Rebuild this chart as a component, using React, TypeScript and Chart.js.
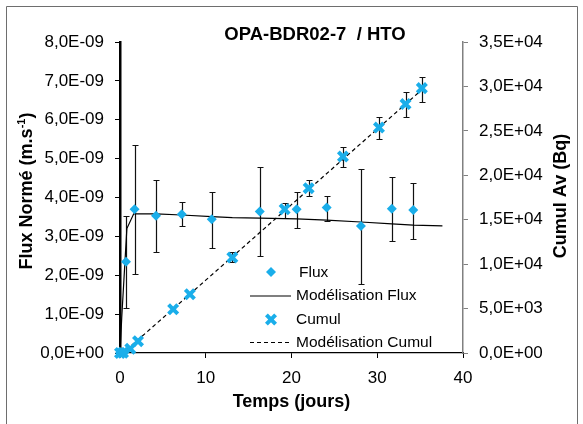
import { useEffect, useRef } from 'react';
import { Chart, registerables } from 'chart.js';

Chart.register(...registerables);

// ---------- DATA ----------
const fluxDays = [0, 0.3, 0.7, 1.7, 4.2, 7.2, 10.7, 16.3, 20.6, 24.1, 28.1, 31.7, 34.2];
const fluxValues = [0, 0.02e-9, 2.35e-9, 3.70e-9, 3.53e-9, 3.57e-9, 3.44e-9, 3.64e-9, 3.70e-9, 3.74e-9, 3.27e-9, 3.71e-9, 3.68e-9];
const fluxErrHigh = [null, null, 3.52e-9, 5.35e-9, 4.45e-9, 3.88e-9, 4.15e-9, 4.78e-9, 4.14e-9, 4.05e-9, 4.74e-9, 4.54e-9, 4.38e-9];
const fluxErrLow = [null, null, 1.15e-9, 2.03e-9, 2.60e-9, 3.27e-9, 2.69e-9, 2.50e-9, 3.22e-9, 3.40e-9, 1.77e-9, 2.88e-9, 2.94e-9];

const cumulDays = [0, 0.35, 1.2, 2.1, 6.2, 8.15, 13.1, 19.2, 22.0, 26.0, 30.2, 33.3, 35.2];
const cumulValues = [0, 30, 480, 1330, 4930, 6610, 10750, 16180, 18550, 22110, 25370, 28010, 29810];
const cumulErrHigh = [null, null, null, null, null, null, 11400, 16860, 19450, 23160, 26610, 29390, 31110];
const cumulErrLow = [null, null, null, null, null, null, 10250, 15170, 17700, 20950, 24100, 26610, 28230];

const modelFluxDays = [0, 0.2, 0.8, 1.6, 4.2, 7.2, 10.7, 13.1, 16.3, 20.6, 24.1, 28.1, 31.7, 34.2, 37.6];
const modelFluxValues = [0, 0.9e-9, 3.2e-9, 3.58e-9, 3.58e-9, 3.55e-9, 3.51e-9, 3.48e-9, 3.47e-9, 3.45e-9, 3.42e-9, 3.37e-9, 3.32e-9, 3.29e-9, 3.27e-9];

const modelCumulDays = [0, 0.5, 1, 2, 5, 10, 20, 30, 35.4];
const modelCumulValues = [0, 150, 560, 1400, 3950, 8200, 16700, 25200, 29800];

const xTicks = [0, 10, 20, 30, 40];

const chartTitle = 'OPA-BDR02-7  / HTO';
const xTitle = 'Temps (jours)';
const yTitleMain = 'Flux Normé (m.s';
const yTitleSup = '-1';
const yTitleEnd = ')';
const y1Title = 'Cumul Av (Bq)';
const legendLabels = ['Flux', 'Modélisation Flux', 'Cumul', 'Modélisation Cumul'];

// ---------- STYLE ----------
const BLUE = '#1AAEEA';
const FONT = '"Liberation Sans", Arial, sans-serif';

function sci(v: number): string {
  const s = v.toExponential(1);
  const [m, e] = s.split('e');
  const n = parseInt(e, 10);
  const sign = n < 0 ? '-' : '+';
  return m.replace('.', ',') + 'E' + sign + String(Math.abs(n)).padStart(2, '0');
}

function drawDiamond(ctx: CanvasRenderingContext2D, x: number, y: number, r: number) {
  ctx.beginPath();
  ctx.moveTo(x, y - r);
  ctx.lineTo(x + r, y);
  ctx.lineTo(x, y + r);
  ctx.lineTo(x - r, y);
  ctx.closePath();
  ctx.fill();
}

function drawX(ctx: CanvasRenderingContext2D, x: number, y: number, r: number) {
  const d = r * Math.SQRT1_2;
  ctx.beginPath();
  ctx.moveTo(x - d, y - d);
  ctx.lineTo(x + d, y + d);
  ctx.moveTo(x + d, y - d);
  ctx.lineTo(x - d, y + d);
  ctx.stroke();
}

const backgroundPlugin = {
  id: 'bgFrame',
  beforeDraw(chart: any) {
    const ctx = chart.ctx as CanvasRenderingContext2D;
    ctx.save();
    ctx.fillStyle = '#fff';
    ctx.fillRect(0, 0, chart.width, chart.height);
    ctx.strokeStyle = '#6e6e6e';
    ctx.lineWidth = 1;
    ctx.beginPath();
    ctx.moveTo(6.5, chart.height + 2);
    ctx.lineTo(6.5, 6.5);
    ctx.lineTo(577.5, 6.5);
    ctx.lineTo(577.5, chart.height + 2);
    ctx.stroke();
    ctx.restore();
  },
};

const errorBarsPlugin = {
  id: 'errorBars',
  beforeDatasetsDraw(chart: any) {
    const ctx = chart.ctx as CanvasRenderingContext2D;
    const xs = chart.scales.x;
    const ys = chart.scales.y;
    const y1s = chart.scales.y1;
    ctx.save();
    ctx.strokeStyle = '#111';
    ctx.lineWidth = 1.2;
    const draw = (t: number, hi: number, lo: number, sc: any) => {
      const px = Math.round(xs.getPixelForValue(t)) + 0.5;
      const ph = Math.round(sc.getPixelForValue(hi)) + 0.5;
      const pl = Math.round(sc.getPixelForValue(lo)) + 0.5;
      ctx.beginPath();
      ctx.moveTo(px, ph);
      ctx.lineTo(px, pl);
      ctx.moveTo(px - 3, ph);
      ctx.lineTo(px + 3, ph);
      ctx.moveTo(px - 3, pl);
      ctx.lineTo(px + 3, pl);
      ctx.stroke();
    };
    fluxDays.forEach((t, i) => {
      const hi = fluxErrHigh[i];
      const lo = fluxErrLow[i];
      if (hi != null && lo != null) draw(t, hi, lo, ys);
    });
    cumulDays.forEach((t, i) => {
      const hi = cumulErrHigh[i];
      const lo = cumulErrLow[i];
      if (hi != null && lo != null) draw(t, hi, lo, y1s);
    });
    ctx.restore();
  },
};

const annotationsPlugin = {
  id: 'annotations',
  afterDraw(chart: any) {
    const ctx = chart.ctx as CanvasRenderingContext2D;
    const area = chart.chartArea;
    ctx.save();
    ctx.fillStyle = '#000';
    ctx.textBaseline = 'middle';

    // title
    ctx.font = `bold 18.5px ${FONT}`;
    ctx.textAlign = 'center';
    ctx.fillText(chartTitle, 315, 35);

    // x title
    ctx.font = `bold 18px ${FONT}`;
    ctx.fillText(xTitle, (area.left + area.right) / 2 + 0, 402);

    // left y title with superscript
    ctx.save();
    ctx.translate(27, 191);
    ctx.rotate(-Math.PI / 2);
    ctx.font = `bold 18px ${FONT}`;
    const w1 = ctx.measureText(yTitleMain).width;
    ctx.font = `bold 11px ${FONT}`;
    const w2 = ctx.measureText(yTitleSup).width;
    ctx.font = `bold 18px ${FONT}`;
    const w3 = ctx.measureText(yTitleEnd).width;
    let sx = -(w1 + w2 + w3) / 2;
    ctx.textAlign = 'left';
    ctx.fillText(yTitleMain, sx, 0);
    sx += w1;
    ctx.font = `bold 11px ${FONT}`;
    ctx.fillText(yTitleSup, sx, -5);
    sx += w2;
    ctx.font = `bold 18px ${FONT}`;
    ctx.fillText(yTitleEnd, sx, 0);
    ctx.restore();

    // right y title
    ctx.save();
    ctx.translate(561, 196);
    ctx.rotate(-Math.PI / 2);
    ctx.font = `bold 18px ${FONT}`;
    ctx.textAlign = 'center';
    ctx.fillText(y1Title, 0, 0);
    ctx.restore();

    // legend
    ctx.font = `15.5px ${FONT}`;
    ctx.textAlign = 'left';
    ctx.fillStyle = BLUE;
    drawDiamond(ctx, 271, 272, 5);
    ctx.strokeStyle = BLUE;
    ctx.lineWidth = 4;
    drawX(ctx, 271, 319.5, 6.5);
    ctx.strokeStyle = '#000';
    ctx.lineWidth = 1.2;
    ctx.beginPath();
    ctx.moveTo(250, 296);
    ctx.lineTo(291, 296);
    ctx.stroke();
    ctx.setLineDash([4, 3]);
    ctx.beginPath();
    ctx.moveTo(250, 342.5);
    ctx.lineTo(291, 342.5);
    ctx.stroke();
    ctx.setLineDash([]);
    ctx.fillStyle = '#000';
    ctx.fillText(legendLabels[0], 299, 272.5);
    ctx.fillText(legendLabels[1], 296, 296);
    ctx.fillText(legendLabels[2], 296, 320);
    ctx.fillText(legendLabels[3], 296, 343);
    ctx.restore();
  },
};

export default function App() {
  const canvasRef = useRef<HTMLCanvasElement | null>(null);

  useEffect(() => {
    if (!canvasRef.current) return;
    const chart = new Chart(canvasRef.current, {
      type: 'scatter',
      data: {
        datasets: [
          {
            label: legendLabels[0],
            data: fluxDays.map((t, i) => ({ x: t, y: fluxValues[i] })),
            yAxisID: 'y',
            pointStyle: 'rectRot',
            pointRadius: 5,
            pointHoverRadius: 5,
            backgroundColor: BLUE,
            borderColor: BLUE,
            borderWidth: 0,
            showLine: false,
            clip: false,
          },
          {
            label: legendLabels[2],
            data: cumulDays.map((t, i) => ({ x: t, y: cumulValues[i] })),
            yAxisID: 'y1',
            pointStyle: 'crossRot',
            pointRadius: 6.5,
            pointHoverRadius: 6.5,
            backgroundColor: BLUE,
            borderColor: BLUE,
            borderWidth: 4,
            showLine: false,
            clip: false,
          },
          {
            label: legendLabels[1],
            data: modelFluxDays.map((t, i) => ({ x: t, y: modelFluxValues[i] })),
            yAxisID: 'y',
            showLine: true,
            pointRadius: 0,
            borderColor: '#000',
            borderWidth: 1.2,
            tension: 0,
            clip: false,
          },
          {
            label: legendLabels[3],
            data: modelCumulDays.map((t, i) => ({ x: t, y: modelCumulValues[i] })),
            yAxisID: 'y1',
            showLine: true,
            pointRadius: 0,
            borderColor: '#000',
            borderWidth: 1.2,
            borderDash: [4, 3],
            tension: 0,
            clip: false,
          },
        ],
      },
      options: {
        animation: false,
        responsive: true,
        maintainAspectRatio: false,
        events: [],
        layout: { padding: { top: 42, left: 0, right: 0, bottom: 0 } },
        plugins: {
          legend: { display: false },
          title: { display: false },
          tooltip: { enabled: false },
        },
        scales: {
          x: {
            type: 'linear',
            position: 'bottom',
            min: 0,
            max: 40,
            afterFit: (s: any) => { s.height = 71; },
            afterBuildTicks: (s: any) => { s.ticks = xTicks.map((v) => ({ value: v })); },
            ticks: {
              color: '#000',
              font: { family: FONT, size: 17 },
              padding: 10,
              maxRotation: 0,
              callback: (v: any) => String(v),
            },
            grid: { drawOnChartArea: false, drawTicks: true, tickLength: 5, color: '#000', lineWidth: 1 },
            border: { display: true, color: '#000', width: 1.2 },
          },
          y: {
            type: 'linear',
            position: 'left',
            min: 0,
            max: 8e-9,
            afterFit: (s: any) => { s.width = 120; },
            ticks: {
              stepSize: 1e-9,
              color: '#000',
              font: { family: FONT, size: 17 },
              padding: 11,
              callback: (v: any) => sci(Number(v)),
            },
            grid: { drawOnChartArea: false, drawTicks: true, tickLength: 5, color: '#000', lineWidth: 1 },
            border: { display: true, color: '#000', width: 2.5 },
          },
          y1: {
            type: 'linear',
            position: 'right',
            min: 0,
            max: 35000,
            afterFit: (s: any) => { s.width = 120; },
            ticks: {
              stepSize: 5000,
              color: '#000',
              font: { family: FONT, size: 17 },
              padding: 11,
              callback: (v: any) => sci(Number(v)),
            },
            grid: { drawOnChartArea: false, drawTicks: true, tickLength: 5, color: '#808080', lineWidth: 1 },
            border: { display: true, color: '#808080', width: 1.5 },
          },
        },
      },
      plugins: [backgroundPlugin, errorBarsPlugin, annotationsPlugin],
    } as any);
    return () => chart.destroy();
  }, []);

  return (
    <div style={{ position: 'absolute', left: 0, top: 0, width: 583, height: 424 }}>
      <canvas ref={canvasRef} />
    </div>
  );
}
